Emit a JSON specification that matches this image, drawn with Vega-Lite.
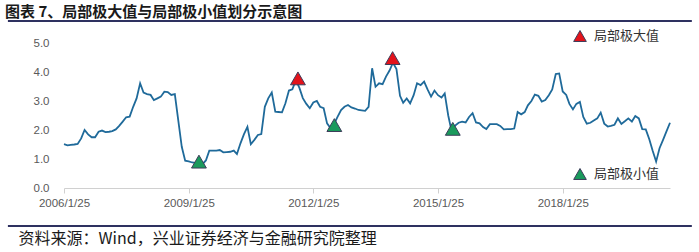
{
  "$schema": "https://vega.github.io/schema/vega-lite/v6.json",
  "width": 606,
  "height": 145,
  "autosize": {"type": "none"},
  "padding": {"left": 64, "top": 43, "right": 29, "bottom": 64},
  "background": "white",
  "title": {
    "text": "图表 7、局部极大值与局部极小值划分示意图",
    "font": "Noto Sans CJK SC",
    "fontSize": 15,
    "fontWeight": "bold",
    "color": "#1a1a1a",
    "anchor": "start",
    "frame": "group",
    "baseline": "middle",
    "dx": -59,
    "dy": 19,
    "offset": 12
  },
  "datasets": {
    "series": [
      {"d": "2006/01/25", "v": 1.51}, {"d": "2006/02/25", "v": 1.47}, {"d": "2006/03/25", "v": 1.49}, {"d": "2006/04/25", "v": 1.50},
      {"d": "2006/05/25", "v": 1.52}, {"d": "2006/06/25", "v": 1.71}, {"d": "2006/07/25", "v": 2.00}, {"d": "2006/08/25", "v": 1.85},
      {"d": "2006/09/25", "v": 1.75}, {"d": "2006/10/25", "v": 1.75}, {"d": "2006/11/25", "v": 1.94}, {"d": "2006/12/25", "v": 1.98},
      {"d": "2007/01/25", "v": 1.93}, {"d": "2007/02/25", "v": 1.94}, {"d": "2007/03/25", "v": 1.96}, {"d": "2007/04/25", "v": 2.02},
      {"d": "2007/05/25", "v": 2.14}, {"d": "2007/06/25", "v": 2.29}, {"d": "2007/07/25", "v": 2.44}, {"d": "2007/08/25", "v": 2.46},
      {"d": "2007/09/25", "v": 2.80}, {"d": "2007/10/25", "v": 3.09}, {"d": "2007/11/25", "v": 3.61}, {"d": "2007/12/25", "v": 3.29},
      {"d": "2008/01/25", "v": 3.24}, {"d": "2008/02/25", "v": 3.21}, {"d": "2008/03/25", "v": 3.03}, {"d": "2008/04/25", "v": 3.09},
      {"d": "2008/05/25", "v": 3.15}, {"d": "2008/06/25", "v": 3.32}, {"d": "2008/07/25", "v": 3.31}, {"d": "2008/08/25", "v": 3.21},
      {"d": "2008/09/25", "v": 3.24}, {"d": "2008/10/25", "v": 2.34}, {"d": "2008/11/25", "v": 1.42}, {"d": "2008/12/25", "v": 0.94},
      {"d": "2009/01/25", "v": 0.92}, {"d": "2009/02/25", "v": 0.88}, {"d": "2009/03/25", "v": 0.87}, {"d": "2009/04/25", "v": 0.84},
      {"d": "2009/05/25", "v": 0.82}, {"d": "2009/06/25", "v": 0.95}, {"d": "2009/07/25", "v": 1.29}, {"d": "2009/08/25", "v": 1.29},
      {"d": "2009/09/25", "v": 1.29}, {"d": "2009/10/25", "v": 1.31}, {"d": "2009/11/25", "v": 1.23}, {"d": "2009/12/25", "v": 1.24},
      {"d": "2010/01/25", "v": 1.25}, {"d": "2010/02/25", "v": 1.29}, {"d": "2010/03/25", "v": 1.17}, {"d": "2010/04/25", "v": 1.54},
      {"d": "2010/05/25", "v": 1.85}, {"d": "2010/06/25", "v": 2.11}, {"d": "2010/07/25", "v": 1.51}, {"d": "2010/08/25", "v": 1.66},
      {"d": "2010/09/25", "v": 1.83}, {"d": "2010/10/25", "v": 1.86}, {"d": "2010/11/25", "v": 2.80}, {"d": "2010/12/25", "v": 3.09},
      {"d": "2011/01/25", "v": 3.29}, {"d": "2011/02/25", "v": 2.63}, {"d": "2011/03/25", "v": 2.62}, {"d": "2011/04/25", "v": 2.61},
      {"d": "2011/05/25", "v": 2.92}, {"d": "2011/06/25", "v": 3.36}, {"d": "2011/07/25", "v": 3.40}, {"d": "2011/08/25", "v": 3.72},
      {"d": "2011/09/25", "v": 3.45}, {"d": "2011/10/25", "v": 3.10}, {"d": "2011/11/25", "v": 2.90}, {"d": "2011/12/25", "v": 2.75},
      {"d": "2012/01/25", "v": 2.95}, {"d": "2012/02/25", "v": 3.00}, {"d": "2012/03/25", "v": 2.80}, {"d": "2012/04/25", "v": 2.75},
      {"d": "2012/05/25", "v": 2.23}, {"d": "2012/06/25", "v": 2.06}, {"d": "2012/07/25", "v": 2.20}, {"d": "2012/08/25", "v": 2.45},
      {"d": "2012/09/25", "v": 2.69}, {"d": "2012/10/25", "v": 2.80}, {"d": "2012/11/25", "v": 2.86}, {"d": "2012/12/25", "v": 2.78},
      {"d": "2013/01/25", "v": 2.74}, {"d": "2013/02/25", "v": 2.69}, {"d": "2013/03/25", "v": 2.68}, {"d": "2013/04/25", "v": 2.66},
      {"d": "2013/05/25", "v": 2.80}, {"d": "2013/06/25", "v": 4.13}, {"d": "2013/07/25", "v": 3.49}, {"d": "2013/08/25", "v": 3.61},
      {"d": "2013/09/25", "v": 3.58}, {"d": "2013/10/25", "v": 3.84}, {"d": "2013/11/25", "v": 4.05}, {"d": "2013/12/25", "v": 4.32},
      {"d": "2014/01/25", "v": 4.10}, {"d": "2014/02/25", "v": 3.18}, {"d": "2014/03/25", "v": 2.94}, {"d": "2014/04/25", "v": 3.09},
      {"d": "2014/05/25", "v": 2.92}, {"d": "2014/06/25", "v": 3.20}, {"d": "2014/07/25", "v": 3.61}, {"d": "2014/08/25", "v": 3.55},
      {"d": "2014/09/25", "v": 3.67}, {"d": "2014/10/25", "v": 3.40}, {"d": "2014/11/25", "v": 3.15}, {"d": "2014/12/25", "v": 3.36},
      {"d": "2015/01/25", "v": 3.20}, {"d": "2015/02/25", "v": 3.12}, {"d": "2015/03/25", "v": 3.26}, {"d": "2015/04/25", "v": 2.50},
      {"d": "2015/05/25", "v": 1.95}, {"d": "2015/06/25", "v": 2.15}, {"d": "2015/07/25", "v": 2.25}, {"d": "2015/08/25", "v": 2.29},
      {"d": "2015/09/25", "v": 2.26}, {"d": "2015/10/25", "v": 2.45}, {"d": "2015/11/25", "v": 2.58}, {"d": "2015/12/25", "v": 2.26},
      {"d": "2016/01/25", "v": 2.23}, {"d": "2016/02/25", "v": 2.10}, {"d": "2016/03/25", "v": 2.03}, {"d": "2016/04/25", "v": 2.20},
      {"d": "2016/05/25", "v": 2.20}, {"d": "2016/06/25", "v": 2.20}, {"d": "2016/07/25", "v": 2.14}, {"d": "2016/08/25", "v": 2.02},
      {"d": "2016/09/25", "v": 2.03}, {"d": "2016/10/25", "v": 2.03}, {"d": "2016/11/25", "v": 2.05}, {"d": "2016/12/25", "v": 2.62},
      {"d": "2017/01/25", "v": 2.54}, {"d": "2017/02/25", "v": 2.62}, {"d": "2017/03/25", "v": 2.85}, {"d": "2017/04/25", "v": 3.00},
      {"d": "2017/05/25", "v": 3.22}, {"d": "2017/06/25", "v": 3.18}, {"d": "2017/07/25", "v": 2.98}, {"d": "2017/08/25", "v": 3.03},
      {"d": "2017/09/25", "v": 3.20}, {"d": "2017/10/25", "v": 3.40}, {"d": "2017/11/25", "v": 3.93}, {"d": "2017/12/25", "v": 3.95},
      {"d": "2018/01/25", "v": 3.33}, {"d": "2018/02/25", "v": 3.21}, {"d": "2018/03/25", "v": 2.90}, {"d": "2018/04/25", "v": 2.71},
      {"d": "2018/05/25", "v": 2.90}, {"d": "2018/06/25", "v": 2.97}, {"d": "2018/07/25", "v": 2.45}, {"d": "2018/08/25", "v": 2.22},
      {"d": "2018/09/25", "v": 2.25}, {"d": "2018/10/25", "v": 2.33}, {"d": "2018/11/25", "v": 2.40}, {"d": "2018/12/25", "v": 2.60},
      {"d": "2019/01/25", "v": 2.22}, {"d": "2019/02/25", "v": 2.12}, {"d": "2019/03/25", "v": 2.14}, {"d": "2019/04/25", "v": 2.18},
      {"d": "2019/05/25", "v": 2.40}, {"d": "2019/06/25", "v": 2.21}, {"d": "2019/07/25", "v": 2.30}, {"d": "2019/08/25", "v": 2.40},
      {"d": "2019/09/25", "v": 2.29}, {"d": "2019/10/25", "v": 2.48}, {"d": "2019/11/25", "v": 2.40}, {"d": "2019/12/25", "v": 2.03},
      {"d": "2020/01/25", "v": 2.02}, {"d": "2020/02/25", "v": 1.68}, {"d": "2020/03/25", "v": 1.29}, {"d": "2020/04/25", "v": 0.91},
      {"d": "2020/05/25", "v": 1.37}, {"d": "2020/06/25", "v": 1.66}, {"d": "2020/07/25", "v": 1.95}, {"d": "2020/08/25", "v": 2.25}
    ],
    "extrema": [
      {"d": "2011/09/12", "v": 3.78, "kind": "局部极大值"},
      {"d": "2013/12/22", "v": 4.48, "kind": "局部极大值"},
      {"d": "2009/04/25", "v": 0.91, "kind": "局部极小值"},
      {"d": "2012/07/28", "v": 2.17, "kind": "局部极小值"},
      {"d": "2015/06/04", "v": 2.04, "kind": "局部极小值"}
    ]
  },
  "layer": [
    {
      "data": {"name": "series"},
      "mark": {"type": "line", "color": "#1F6A9A", "strokeWidth": 1.8},
      "encoding": {
        "x": {
          "field": "d",
          "type": "temporal",
          "scale": {"domain": [{"year": 2006, "month": 1, "date": 25}, {"year": 2020, "month": 8, "date": 25}]},
          "axis": {
            "values": [
              {"year": 2006, "month": 1, "date": 25},
              {"year": 2009, "month": 1, "date": 25},
              {"year": 2012, "month": 1, "date": 25},
              {"year": 2015, "month": 1, "date": 25},
              {"year": 2018, "month": 1, "date": 25}
            ],
            "format": "%Y/%-m/%-d",
            "title": "资料来源：Wind，兴业证券经济与金融研究院整理"
          }
        },
        "y": {
          "field": "v",
          "type": "quantitative",
          "scale": {"domain": [0, 5], "nice": false},
          "axis": {"values": [0, 1, 2, 3, 4, 5], "tickCount": 6, "format": ".1f", "title": null}
        }
      }
    },
    {
      "data": {"values": [{}]},
      "mark": {"type": "rule", "color": "#2E3160", "strokeWidth": 2},
      "encoding": {
        "x": {"datum": {"year": 2004, "month": 9, "date": 19}, "type": "temporal"},
        "x2": {"datum": {"year": 2021, "month": 3, "date": 5}},
        "y": {"datum": 5.76, "type": "quantitative", "axis": {"values": [0, 1, 2, 3, 4, 5], "tickCount": 6, "format": ".1f", "title": null}}
      }
    },
    {
      "data": {"values": [{}]},
      "mark": {"type": "rule", "color": "#2E3160", "strokeWidth": 2},
      "encoding": {
        "x": {"datum": {"year": 2004, "month": 9, "date": 19}, "type": "temporal"},
        "x2": {"datum": {"year": 2021, "month": 3, "date": 5}},
        "y": {"datum": -1.31, "type": "quantitative", "axis": {"values": [0, 1, 2, 3, 4, 5], "tickCount": 6, "format": ".1f", "title": null}}
      }
    },
    {
      "data": {"name": "extrema"},
      "mark": {"type": "point", "shape": "triangle-up", "filled": true, "size": 220, "strokeWidth": 1, "opacity": 1},
      "encoding": {
        "x": {"field": "d", "type": "temporal"},
        "y": {
          "field": "v",
          "type": "quantitative",
          "axis": {"values": [0, 1, 2, 3, 4, 5], "tickCount": 6, "format": ".1f", "title": null}
        },
        "color": {
          "field": "kind",
          "type": "nominal",
          "scale": {"domain": ["局部极大值", "局部极小值"], "range": ["#E3131B", "#1A9A5C"]},
          "legend": {
            "orient": "none",
            "legendX": 509,
            "legendY": -14,
            "direction": "vertical",
            "title": null,
            "symbolType": "triangle-up",
            "symbolSize": 160,
            "symbolStrokeColor": "#3c3c5a",
            "symbolStrokeWidth": 1,
            "symbolOpacity": 1,
            "labelFont": "Noto Sans CJK SC",
            "labelFontSize": 13,
            "labelColor": "#333333",
            "labelOffset": 7,
            "rowPadding": 122
          }
        },
        "stroke": {"value": "#3c3c5a"}
      }
    }
  ],
  "config": {
    "view": {"stroke": null},
    "axisX": {
      "grid": false,
      "domainColor": "#d0d0d0",
      "tickColor": "#d0d0d0",
      "tickSize": 5,
      "labelPadding": 4,
      "labelFont": "Liberation Sans",
      "labelFontSize": 11.5,
      "labelColor": "#595959",
      "labelFlush": false,
      "labelOverlap": false,
      "titleFont": "Noto Sans CJK SC",
      "titleFontSize": 16,
      "titleFontWeight": "normal",
      "titleColor": "#1a1a1a",
      "titleAnchor": "start",
      "titleAlign": "left",
      "titleBaseline": "middle",
      "titleX": -46,
      "titleY": 50
    },
    "axisY": {
      "domain": false,
      "ticks": false,
      "grid": false,
      "labelOverlap": false,
      "labelBound": false,
      "labelFlush": false,
      "labelPadding": 15,
      "labelFont": "Liberation Sans",
      "labelFontSize": 11.5,
      "labelColor": "#595959"
    }
  }
}
